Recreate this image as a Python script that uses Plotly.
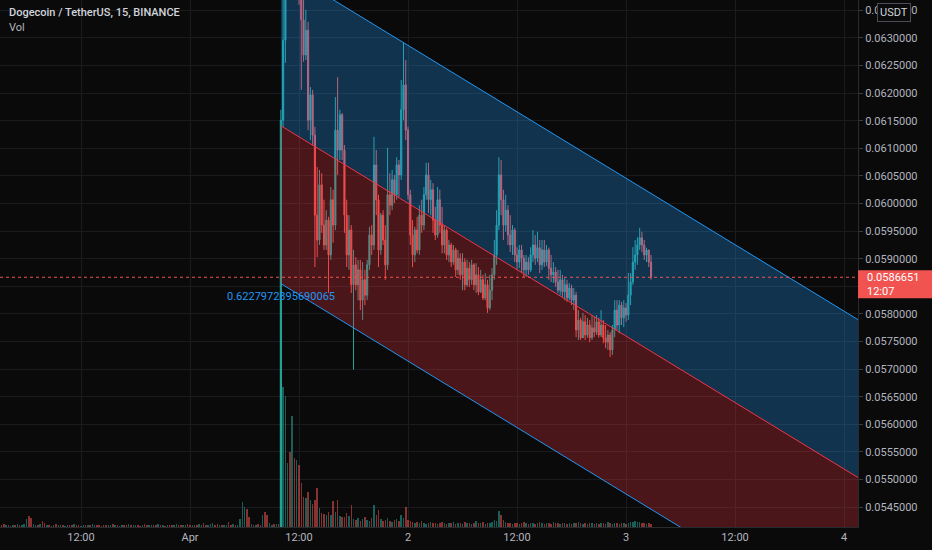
import plotly.graph_objects as go
import pandas as pd

# ---------------- data ----------------
title_text = "Dogecoin / TetherUS, 15, BINANCE"
vol_label = "Vol"

pump_time = "2021-04-01 10:00"          # first candle visible in the price pane
first_open = 0.05330
close = [
    0.06151, 0.06296, 0.06405, 0.06441, 0.06414, 0.06459, 0.06423, 0.06450, 0.06387, 0.06333,
    0.06269, 0.06314, 0.06151, 0.06197, 0.06124, 0.05979, 0.05934, 0.06034, 0.05961, 0.05925,
    0.05970, 0.05907, 0.06007, 0.05961, 0.06133, 0.06097, 0.06161, 0.06097, 0.05979, 0.05907,
    0.05952, 0.05853, 0.05889, 0.05853, 0.05880, 0.05825, 0.05862, 0.05834, 0.05889, 0.05943,
    0.05925, 0.06070, 0.06007, 0.05916, 0.05979, 0.05934, 0.05889, 0.06016, 0.05997, 0.06043,
    0.06016, 0.06070, 0.06052, 0.06170, 0.06215, 0.06133, 0.06016, 0.05943, 0.05907, 0.05952,
    0.05916, 0.05979, 0.05961, 0.06016, 0.06052, 0.06007, 0.06025, 0.05970, 0.05943, 0.06007,
    0.05961, 0.05925, 0.05952, 0.05907, 0.05925, 0.05894, 0.05916, 0.05880, 0.05901, 0.05871,
    0.05894, 0.05853, 0.05883, 0.05862, 0.05889, 0.05853, 0.05871, 0.05840, 0.05862, 0.05829,
    0.05853, 0.05811, 0.05843, 0.05871, 0.05907, 0.05961, 0.06052, 0.06007, 0.05961, 0.05988,
    0.05943, 0.05925, 0.05952, 0.05907, 0.05894, 0.05916, 0.05901, 0.05880, 0.05894, 0.05880,
    0.05907, 0.05925, 0.05901, 0.05920, 0.05889, 0.05916, 0.05894, 0.05916, 0.05883, 0.05871,
    0.05876, 0.05858, 0.05843, 0.05862, 0.05840, 0.05853, 0.05829, 0.05847, 0.05825, 0.05834,
    0.05771, 0.05789, 0.05757, 0.05786, 0.05762, 0.05780, 0.05757, 0.05775, 0.05767, 0.05786,
    0.05762, 0.05780, 0.05757, 0.05749, 0.05762, 0.05735, 0.05771, 0.05807, 0.05780, 0.05816,
    0.05793, 0.05811, 0.05798, 0.05834, 0.05858, 0.05894, 0.05907, 0.05925, 0.05938, 0.05925,
    0.05907, 0.05916, 0.05894, 0.0586651,
]
high = [
    0.06170, 0.06369, 0.06441, 0.06478, 0.06496, 0.06514, 0.06478, 0.06496, 0.06459, 0.06405,
    0.06369, 0.06351, 0.06329, 0.06211, 0.06206, 0.06139, 0.06066, 0.06061, 0.06055, 0.06007,
    0.05988, 0.05976, 0.06030, 0.06025, 0.06193, 0.06229, 0.06170, 0.06164, 0.06106, 0.06007,
    0.05979, 0.05961, 0.05916, 0.05903, 0.05898, 0.05898, 0.05894, 0.05880, 0.05898, 0.05958,
    0.05961, 0.06121, 0.06097, 0.06016, 0.05983, 0.05988, 0.05961, 0.06101, 0.06055, 0.06061,
    0.06052, 0.06084, 0.06079, 0.06224, 0.06291, 0.06260, 0.06139, 0.06025, 0.05970, 0.05958,
    0.05976, 0.05997, 0.06007, 0.06030, 0.06074, 0.06074, 0.06043, 0.06037, 0.05994, 0.06030,
    0.06025, 0.05994, 0.05961, 0.05956, 0.05934, 0.05929, 0.05925, 0.05920, 0.05916, 0.05910,
    0.05910, 0.05901, 0.05898, 0.05894, 0.05898, 0.05892, 0.05892, 0.05885, 0.05880, 0.05871,
    0.05874, 0.05862, 0.05871, 0.05883, 0.05934, 0.05988, 0.06084, 0.06079, 0.06025, 0.06016,
    0.05997, 0.05979, 0.05961, 0.05956, 0.05921, 0.05925, 0.05925, 0.05907, 0.05907, 0.05903,
    0.05921, 0.05952, 0.05943, 0.05949, 0.05934, 0.05934, 0.05934, 0.05925, 0.05920, 0.05907,
    0.05894, 0.05885, 0.05880, 0.05880, 0.05871, 0.05865, 0.05862, 0.05856, 0.05853, 0.05847,
    0.05840, 0.05807, 0.05793, 0.05802, 0.05798, 0.05793, 0.05789, 0.05798, 0.05795, 0.05798,
    0.05793, 0.05807, 0.05789, 0.05780, 0.05771, 0.05767, 0.05780, 0.05825, 0.05825, 0.05825,
    0.05822, 0.05825, 0.05820, 0.05874, 0.05874, 0.05921, 0.05934, 0.05939, 0.05956, 0.05949,
    0.05934, 0.05920, 0.05916, 0.05907,
]
low = [
    0.05320, 0.06139, 0.06255, 0.06387, 0.06378, 0.06400, 0.06378, 0.06405, 0.06360, 0.06206,
    0.06257, 0.06260, 0.06133, 0.06115, 0.06106, 0.05885, 0.05903, 0.05925, 0.05947, 0.05916,
    0.05916, 0.05838, 0.05898, 0.05929, 0.05952, 0.06052, 0.06079, 0.06079, 0.05947, 0.05885,
    0.05880, 0.05838, 0.05699, 0.05843, 0.05825, 0.05807, 0.05789, 0.05816, 0.05825, 0.05880,
    0.05907, 0.05916, 0.05979, 0.05885, 0.05907, 0.05925, 0.05862, 0.05880, 0.05979, 0.05988,
    0.06001, 0.06007, 0.06012, 0.06043, 0.06151, 0.06115, 0.06007, 0.05925, 0.05885, 0.05894,
    0.05910, 0.05907, 0.05947, 0.05952, 0.06007, 0.05983, 0.05979, 0.05947, 0.05934, 0.05938,
    0.05947, 0.05910, 0.05910, 0.05898, 0.05894, 0.05885, 0.05889, 0.05867, 0.05871, 0.05862,
    0.05843, 0.05843, 0.05849, 0.05849, 0.05853, 0.05843, 0.05838, 0.05834, 0.05838, 0.05825,
    0.05825, 0.05802, 0.05807, 0.05825, 0.05862, 0.05889, 0.05952, 0.05979, 0.05934, 0.05949,
    0.05925, 0.05912, 0.05907, 0.05894, 0.05880, 0.05883, 0.05874, 0.05867, 0.05867, 0.05871,
    0.05876, 0.05894, 0.05889, 0.05894, 0.05874, 0.05880, 0.05885, 0.05887, 0.05862, 0.05858,
    0.05856, 0.05849, 0.05838, 0.05834, 0.05831, 0.05825, 0.05822, 0.05825, 0.05816, 0.05807,
    0.05758, 0.05753, 0.05753, 0.05758, 0.05753, 0.05757, 0.05749, 0.05753, 0.05758, 0.05762,
    0.05757, 0.05758, 0.05747, 0.05738, 0.05735, 0.05722, 0.05726, 0.05758, 0.05771, 0.05765,
    0.05780, 0.05776, 0.05786, 0.05789, 0.05816, 0.05853, 0.05880, 0.05889, 0.05916, 0.05912,
    0.05898, 0.05894, 0.05885, 0.05862,
]
last_price = 0.0586651
countdown = "12:07"

# volume (arbitrary units) for the candles before the pump, and their direction (u/d)
vol_pre = [
    2, 2, 3, 2, 2, 1, 2, 2, 3, 2, 2, 3, 8, 11, 9, 3, 2, 2, 3, 6,
    4, 2, 2, 1, 2, 3, 2, 2, 2, 1, 2, 2, 2, 3, 2, 2, 1, 2, 2, 2,
    2, 3, 2, 2, 2, 1, 2, 2, 2, 2, 3, 2, 2, 1, 2, 2, 2, 3, 2, 2,
    2, 2, 1, 2, 3, 2, 2, 2, 2, 2, 3, 2, 2, 1, 2, 2, 2, 2, 3, 2,
    2, 2, 2, 3, 2, 2, 2, 2, 3, 2, 4, 2, 2, 3, 4, 2, 3, 2, 2, 2,
    2, 5, 2, 3, 2, 2, 8, 25, 20, 18, 10, 3, 2, 2, 3, 2, 12, 15, 12, 4,
    2, 3, 3, 3,
]
vol_pre_dir = ("udduduudud" "uuudduudud" "dudduduudu" "uddudduudu" "duuddudduu"
               "duduuddudu" "uddudduudd" "udududduud" "duuddudduu" "dduuuddudu"
               "udduduuuud" "dududduddu" "udud")
# volume for the candles from the pump onward (same length as close)
vol_post = [
    227, 140, 131, 64, 75, 111, 69, 67, 62, 44, 30, 29, 35, 27, 23, 27, 39, 19, 14, 13,
    12, 15, 12, 26, 15, 27, 11, 10, 10, 14, 11, 22,
    8, 7, 9, 6, 8, 10, 7, 6,
    9, 22, 12, 17, 8, 6, 7, 9,
    6, 5, 7, 8, 6, 12, 9, 20, 7, 6,
    5, 4, 5, 4, 6, 4, 3, 4, 5, 4,
    4, 3, 4, 5, 4, 3, 4, 4, 5, 3,
    4, 4, 3, 5, 4, 4, 3, 4, 6, 4,
    4, 5, 3, 4, 4, 5, 7, 6, 16, 12,
    7, 5, 4, 4, 3, 4, 4, 3, 4, 5,
    4, 3, 4, 4, 3, 4, 5, 4, 3, 4,
    4, 3, 5, 4, 4, 3, 4, 4, 3, 4,
    3, 4, 4, 5, 4, 3, 4, 3, 4, 4,
    3, 4, 3, 4, 4, 3, 5, 4, 3, 4,
    4, 3, 4, 4, 3, 4, 5, 5, 6, 5,
    5, 4, 4, 3, 4, 3,
]

# linear regression channel
channel_start = "2021-04-01 10:00"
channel_end = "2021-04-04 03:00"
channel_mid_start = 0.06141
channel_slope_per_hour = -0.0001003
channel_dev = 0.00286
pearson_r = "0.6227972895690065"

# axes
x_range = ["2021-03-31 03:05", "2021-04-04 01:32"]
y_range = [0.054141, 0.063688]
x_tickvals = ["2021-03-31 12:00", "2021-04-01 00:00", "2021-04-01 12:00", "2021-04-02 00:00",
              "2021-04-02 12:00", "2021-04-03 00:00", "2021-04-03 12:00", "2021-04-04 00:00"]
x_ticktext = ["12:00", "Apr", "12:00", "2", "12:00", "3", "12:00", "4"]
vol_range = [0, 527]

# ---------------- styling ----------------
BG = "#0a0a0a"
GRID = "#1a1b1e"
TXT = "#b2b5be"
UP = "#26a69a"
DOWN = "#ef5350"
UP_VOL = "rgba(38,166,154,0.55)"
DOWN_VOL = "rgba(239,83,80,0.55)"
FONT = "Roboto"

# ---------------- build ----------------
step = pd.Timedelta(minutes=15)
t_pump = pd.Timestamp(pump_time)
candle_times = pd.date_range(t_pump, periods=len(close), freq="15min")
open_ = [first_open] + close[:-1]
pre_times = pd.date_range(end=t_pump - step, periods=len(vol_pre), freq="15min")

vol_times = list(pre_times) + list(candle_times)
vol_vals = vol_pre + vol_post[:len(close)]
vol_cols = [UP_VOL if d == "u" else DOWN_VOL for d in vol_pre_dir[:len(vol_pre)]]
vol_cols += [UP_VOL if c >= o else DOWN_VOL for o, c in zip(open_, close)]

fig = go.Figure()

fig.add_trace(go.Bar(
    x=vol_times, y=vol_vals, marker=dict(color=vol_cols, line=dict(width=0)),
    width=15 * 60 * 1000 * 0.65, yaxis="y", hoverinfo="skip", showlegend=False))

fig.add_trace(go.Candlestick(
    x=candle_times, open=open_, high=high, low=low, close=close, yaxis="y2",
    increasing=dict(line=dict(color=UP, width=1), fillcolor=UP),
    decreasing=dict(line=dict(color=DOWN, width=1), fillcolor=DOWN),
    whiskerwidth=0, showlegend=False, hoverinfo="skip"))

t0 = pd.Timestamp(channel_start)
t1 = pd.Timestamp(channel_end)
hours = (t1 - t0).total_seconds() / 3600.0
mid0 = channel_mid_start
mid1 = channel_mid_start + channel_slope_per_hour * hours
up0, up1 = mid0 + channel_dev, mid1 + channel_dev
lo0, lo1 = mid0 - channel_dev, mid1 - channel_dev

fig.add_trace(go.Scatter(
    x=[t0, t1, t1, t0], y=[up0, up1, mid1, mid0], fill="toself",
    fillcolor="rgba(33,150,243,0.29)", line=dict(width=0), mode="lines",
    yaxis="y2", hoverinfo="skip", showlegend=False))
fig.add_trace(go.Scatter(
    x=[t0, t1, t1, t0], y=[mid0, mid1, lo1, lo0], fill="toself",
    fillcolor="rgba(242,54,69,0.28)", line=dict(width=0), mode="lines",
    yaxis="y2", hoverinfo="skip", showlegend=False))
for a, b, col in [(up0, up1, "#2196f3"), (mid0, mid1, "#f23645"), (lo0, lo1, "#2196f3")]:
    fig.add_trace(go.Scatter(
        x=[t0, t1], y=[a, b], mode="lines", line=dict(color=col, width=1),
        yaxis="y2", hoverinfo="skip", showlegend=False))

fig.add_annotation(x=t0, y=lo0, xref="x", yref="y2", text=pearson_r, showarrow=False,
                   xanchor="center", yanchor="top", yshift=-4,
                   font=dict(family=FONT, size=11, color="#2196f3"))

# current price dotted line + price label
fig.add_shape(type="line", xref="paper", yref="y2", x0=0, x1=1, y0=last_price, y1=last_price,
              line=dict(color=DOWN, width=1, dash="dot"))
fig.add_shape(type="rect", xref="paper", yref="y2", x0=1.0, x1=1.0 + 74 / 858,
              ysizemode="pixel", yanchor=last_price, y0=-21, y1=7,
              fillcolor="#f05350", line=dict(width=0), layer="above")
fig.add_annotation(x=1.0, y=last_price, xref="paper", yref="y2", text=f"{last_price:.7f}",
                   showarrow=False, xanchor="left", yanchor="middle", xshift=7,
                   font=dict(family=FONT, size=11, color="#ffffff"))
fig.add_annotation(x=1.0, y=last_price, xref="paper", yref="y2", text=countdown,
                   showarrow=False, xanchor="left", yanchor="middle", xshift=7, yshift=-14,
                   font=dict(family=FONT, size=11, color="#ffffff"))

# currency badge
fig.add_annotation(x=1.0, y=1.0, xref="paper", yref="paper", text="USDT", showarrow=False,
                   xanchor="center", yanchor="middle", xshift=36, yshift=-12,
                   bgcolor=BG, bordercolor="#4a4d57", borderwidth=1, borderpad=2,
                   font=dict(family=FONT, size=11, color="#d1d4dc"))

# legend texts top-left
fig.add_annotation(x=0, y=1, xref="paper", yref="paper", text=title_text, showarrow=False,
                   xanchor="left", yanchor="middle", xshift=7, yshift=-12,
                   font=dict(family=FONT, size=11, color="#d1d4dc", weight=500))
fig.add_annotation(x=0, y=1, xref="paper", yref="paper", text=vol_label, showarrow=False,
                   xanchor="left", yanchor="middle", xshift=7, yshift=-27,
                   font=dict(family=FONT, size=11, color="#b2b5be"))

fig.update_layout(
    width=932, height=550,
    margin=dict(l=0, r=74, t=0, b=23),
    paper_bgcolor=BG, plot_bgcolor=BG,
    font=dict(family=FONT, color=TXT, size=11),
    showlegend=False,
    bargap=0,
    xaxis=dict(type="date", range=x_range, tickvals=x_tickvals, ticktext=x_ticktext,
               showgrid=True, gridcolor=GRID, gridwidth=1, zeroline=False,
               showline=True, linecolor="#2a2b2e", linewidth=1,
               ticks="", tickfont=dict(family=FONT, size=11, color=TXT),
               rangeslider=dict(visible=False), fixedrange=True),
    yaxis=dict(range=vol_range, visible=False, showgrid=False, fixedrange=True),
    yaxis2=dict(overlaying="y", side="right", range=y_range, dtick=0.0005, tick0=0.0545,
                tickformat=".7f", showgrid=True, gridcolor=GRID, gridwidth=1, zeroline=False,
                ticks="outside", ticklen=4, tickcolor="#3a3b3e",
                showline=True, linecolor="#2a2b2e", linewidth=1,
                tickfont=dict(family=FONT, size=11, color=TXT), fixedrange=True),
)

fig.write_html("out.html", config={"displayModeBar": False},
               post_script="document.body.style.margin='0px';document.body.style.background='" + BG + "';")
